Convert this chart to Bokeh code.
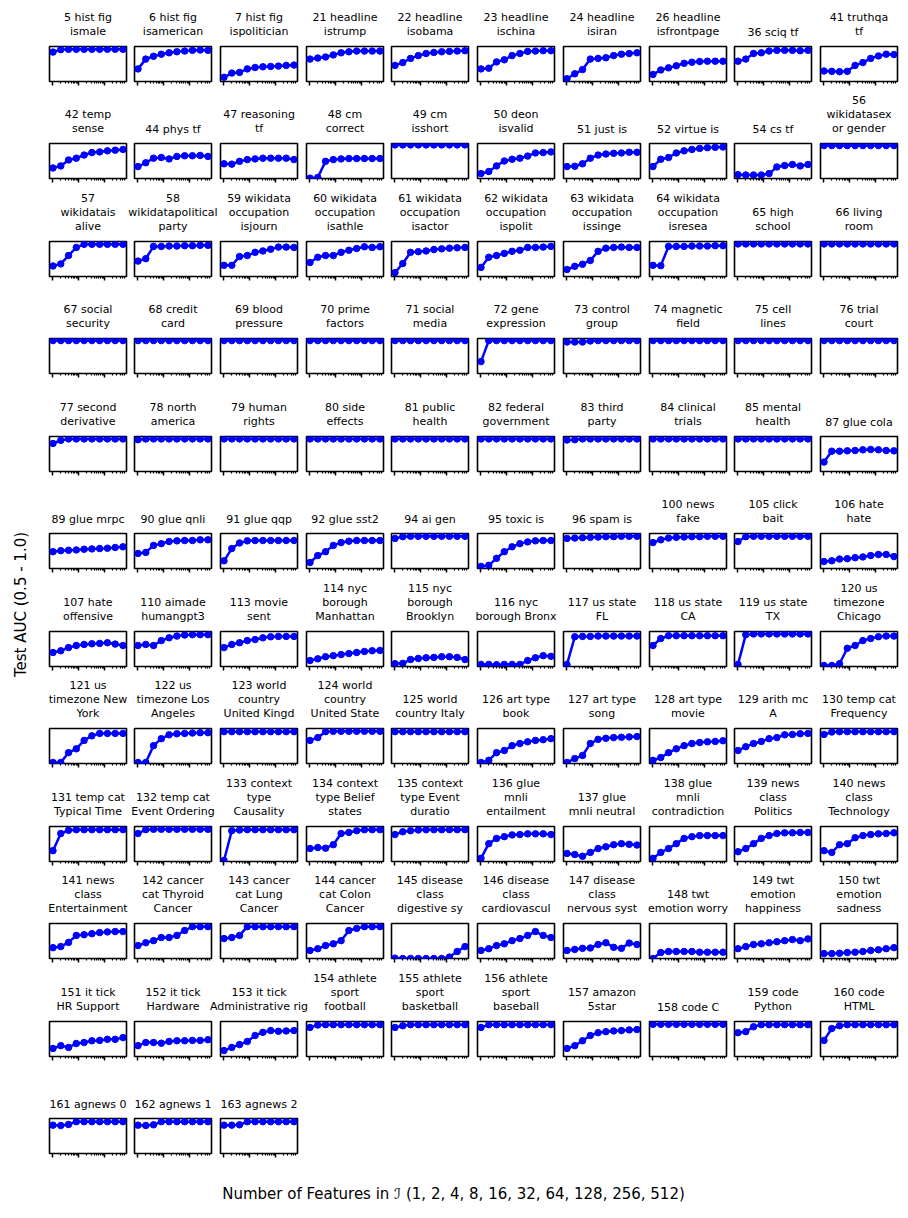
import math
from bokeh.plotting import figure
from bokeh.layouts import row, column
from bokeh.models import Range1d, FixedTicker, Label
from bokeh.embed import file_html
from bokeh.resources import INLINE

# ---------------- data ----------------
n_features = [1, 2, 4, 8, 16, 32, 64, 128, 256, 512]

titles_r01 = ["5 hist fig\nismale", "6 hist fig\nisamerican", "7 hist fig\nispolitician",
              "21 headline\nistrump", "22 headline\nisobama", "23 headline\nischina",
              "24 headline\nisiran", "26 headline\nisfrontpage", "36 sciq tf", "41 truthqa\ntf"]
auc_r01 = [
    [0.92, 0.955, 0.96, 0.96, 0.96, 0.96, 0.96, 0.96, 0.96, 0.96],
    [0.68, 0.82, 0.86, 0.89, 0.91, 0.925, 0.935, 0.945, 0.95, 0.945],
    [0.56, 0.62, 0.63, 0.68, 0.70, 0.71, 0.715, 0.72, 0.73, 0.735],
    [0.82, 0.835, 0.85, 0.88, 0.91, 0.925, 0.935, 0.935, 0.935, 0.935],
    [0.73, 0.77, 0.83, 0.87, 0.90, 0.915, 0.925, 0.93, 0.935, 0.94],
    [0.68, 0.69, 0.78, 0.81, 0.87, 0.90, 0.93, 0.935, 0.94, 0.94],
    [0.54, 0.61, 0.67, 0.82, 0.83, 0.84, 0.87, 0.89, 0.90, 0.91],
    [0.60, 0.665, 0.695, 0.725, 0.76, 0.775, 0.785, 0.79, 0.79, 0.79],
    [0.79, 0.82, 0.90, 0.91, 0.935, 0.945, 0.945, 0.945, 0.94, 0.945],
    [0.65, 0.645, 0.64, 0.645, 0.73, 0.77, 0.83, 0.865, 0.89, 0.885],
]

titles_r02 = ["42 temp\nsense", "44 phys tf", "47 reasoning\ntf", "48 cm\ncorrect", "49 cm\nisshort",
              "50 deon\nisvalid", "51 just is", "52 virtue is", "54 cs tf", "56\nwikidatasex\nor gender"]
auc_r02 = [
    [0.65, 0.68, 0.765, 0.79, 0.835, 0.87, 0.88, 0.895, 0.905, 0.915],
    [0.67, 0.725, 0.79, 0.80, 0.78, 0.815, 0.825, 0.825, 0.83, 0.815],
    [0.71, 0.705, 0.745, 0.77, 0.78, 0.79, 0.79, 0.79, 0.79, 0.77],
    [0.505, 0.515, 0.745, 0.77, 0.78, 0.785, 0.785, 0.785, 0.785, 0.785],
    [0.98, 0.98, 0.98, 0.98, 0.98, 0.98, 0.98, 0.98, 0.98, 0.98],
    [0.57, 0.60, 0.68, 0.75, 0.775, 0.79, 0.82, 0.865, 0.87, 0.88],
    [0.67, 0.675, 0.71, 0.79, 0.835, 0.85, 0.86, 0.865, 0.875, 0.875],
    [0.67, 0.775, 0.80, 0.865, 0.895, 0.915, 0.93, 0.94, 0.945, 0.95],
    [0.555, 0.55, 0.55, 0.55, 0.57, 0.665, 0.685, 0.70, 0.68, 0.70],
    [0.97, 0.97, 0.97, 0.97, 0.97, 0.97, 0.97, 0.97, 0.97, 0.97],
]

titles_r03 = ["57\nwikidatais\nalive", "58\nwikidatapolitical\nparty", "59 wikidata\noccupation\nisjourn",
              "60 wikidata\noccupation\nisathle", "61 wikidata\noccupation\nisactor",
              "62 wikidata\noccupation\nispolit", "63 wikidata\noccupation\nissinge",
              "64 wikidata\noccupation\nisresea", "65 high\nschool", "66 living\nroom"]
auc_r03 = [
    [0.65, 0.68, 0.80, 0.915, 0.96, 0.96, 0.96, 0.96, 0.96, 0.96],
    [0.72, 0.755, 0.93, 0.93, 0.935, 0.935, 0.94, 0.94, 0.945, 0.945],
    [0.66, 0.66, 0.785, 0.80, 0.845, 0.865, 0.89, 0.92, 0.92, 0.915],
    [0.70, 0.775, 0.80, 0.80, 0.845, 0.875, 0.90, 0.925, 0.915, 0.925],
    [0.555, 0.685, 0.845, 0.855, 0.865, 0.885, 0.895, 0.905, 0.91, 0.915],
    [0.63, 0.775, 0.80, 0.83, 0.86, 0.875, 0.915, 0.915, 0.92, 0.93],
    [0.60, 0.645, 0.675, 0.73, 0.86, 0.905, 0.915, 0.92, 0.915, 0.915],
    [0.66, 0.655, 0.93, 0.93, 0.93, 0.935, 0.935, 0.935, 0.94, 0.94],
    [0.965, 0.965, 0.965, 0.965, 0.965, 0.965, 0.965, 0.965, 0.965, 0.965],
    [0.965, 0.965, 0.965, 0.965, 0.965, 0.965, 0.965, 0.965, 0.965, 0.965],
]

titles_r04 = ["67 social\nsecurity", "68 credit\ncard", "69 blood\npressure", "70 prime\nfactors",
              "71 social\nmedia", "72 gene\nexpression", "73 control\ngroup", "74 magnetic\nfield",
              "75 cell\nlines", "76 trial\ncourt"]
auc_r04 = [
    [0.97, 0.97, 0.97, 0.97, 0.97, 0.97, 0.97, 0.97, 0.97, 0.97],
    [0.97, 0.97, 0.97, 0.97, 0.97, 0.97, 0.97, 0.97, 0.97, 0.97],
    [0.97, 0.97, 0.97, 0.97, 0.97, 0.97, 0.97, 0.97, 0.97, 0.97],
    [0.97, 0.97, 0.97, 0.97, 0.97, 0.97, 0.97, 0.97, 0.97, 0.97],
    [0.97, 0.97, 0.97, 0.97, 0.97, 0.97, 0.97, 0.97, 0.97, 0.97],
    [0.67, 0.97, 0.97, 0.97, 0.97, 0.97, 0.97, 0.97, 0.97, 0.97],
    [0.95, 0.95, 0.95, 0.965, 0.97, 0.97, 0.97, 0.97, 0.97, 0.97],
    [0.97, 0.97, 0.97, 0.97, 0.97, 0.97, 0.97, 0.97, 0.97, 0.97],
    [0.97, 0.97, 0.97, 0.97, 0.97, 0.97, 0.97, 0.97, 0.97, 0.97],
    [0.97, 0.97, 0.97, 0.97, 0.97, 0.97, 0.97, 0.97, 0.97, 0.97],
]

titles_r05 = ["77 second\nderivative", "78 north\namerica", "79 human\nrights", "80 side\neffects",
              "81 public\nhealth", "82 federal\ngovernment", "83 third\nparty", "84 clinical\ntrials",
              "85 mental\nhealth", "87 glue cola"]
auc_r05 = [
    [0.90, 0.945, 0.965, 0.965, 0.965, 0.965, 0.965, 0.965, 0.965, 0.965],
    [0.955, 0.965, 0.965, 0.965, 0.965, 0.965, 0.965, 0.965, 0.965, 0.965],
    [0.965, 0.965, 0.965, 0.965, 0.965, 0.965, 0.965, 0.965, 0.965, 0.965],
    [0.965, 0.965, 0.965, 0.965, 0.965, 0.965, 0.965, 0.965, 0.965, 0.965],
    [0.965, 0.965, 0.965, 0.965, 0.965, 0.965, 0.965, 0.965, 0.965, 0.965],
    [0.965, 0.965, 0.965, 0.965, 0.965, 0.965, 0.965, 0.965, 0.965, 0.965],
    [0.95, 0.955, 0.965, 0.965, 0.965, 0.965, 0.965, 0.965, 0.965, 0.965],
    [0.965, 0.965, 0.965, 0.965, 0.965, 0.965, 0.965, 0.965, 0.965, 0.965],
    [0.965, 0.965, 0.965, 0.965, 0.965, 0.965, 0.965, 0.965, 0.965, 0.965],
    [0.635, 0.79, 0.79, 0.795, 0.80, 0.81, 0.815, 0.81, 0.80, 0.795],
]

titles_r06 = ["89 glue mrpc", "90 glue qnli", "91 glue qqp", "92 glue sst2", "94 ai gen",
              "95 toxic is", "96 spam is", "100 news\nfake", "105 click\nbait", "106 hate\nhate"]
auc_r06 = [
    [0.74, 0.755, 0.76, 0.765, 0.775, 0.78, 0.785, 0.79, 0.80, 0.81],
    [0.715, 0.73, 0.83, 0.855, 0.885, 0.895, 0.90, 0.90, 0.91, 0.91],
    [0.61, 0.785, 0.865, 0.895, 0.90, 0.90, 0.90, 0.90, 0.90, 0.90],
    [0.585, 0.685, 0.74, 0.83, 0.87, 0.89, 0.90, 0.90, 0.90, 0.90],
    [0.93, 0.955, 0.96, 0.96, 0.96, 0.96, 0.96, 0.96, 0.96, 0.96],
    [0.53, 0.545, 0.645, 0.74, 0.81, 0.855, 0.88, 0.895, 0.90, 0.90],
    [0.93, 0.935, 0.94, 0.945, 0.95, 0.955, 0.955, 0.96, 0.96, 0.96],
    [0.87, 0.91, 0.935, 0.945, 0.95, 0.955, 0.955, 0.96, 0.96, 0.96],
    [0.885, 0.955, 0.96, 0.96, 0.96, 0.96, 0.96, 0.96, 0.96, 0.96],
    [0.60, 0.61, 0.635, 0.64, 0.655, 0.665, 0.685, 0.70, 0.70, 0.67],
]

titles_r07 = ["107 hate\noffensive", "110 aimade\nhumangpt3", "113 movie\nsent", "114 nyc\nborough\nManhattan",
              "115 nyc\nborough\nBrooklyn", "116 nyc\nborough Bronx", "117 us state\nFL", "118 us state\nCA",
              "119 us state\nTX", "120 us\ntimezone\nChicago"]
auc_r07 = [
    [0.70, 0.725, 0.77, 0.80, 0.815, 0.825, 0.83, 0.84, 0.82, 0.80],
    [0.80, 0.815, 0.80, 0.87, 0.91, 0.935, 0.95, 0.955, 0.955, 0.955],
    [0.77, 0.815, 0.84, 0.87, 0.885, 0.91, 0.925, 0.93, 0.93, 0.93],
    [0.585, 0.61, 0.64, 0.655, 0.67, 0.685, 0.70, 0.715, 0.725, 0.73],
    [0.54, 0.545, 0.60, 0.615, 0.625, 0.63, 0.64, 0.64, 0.63, 0.60],
    [0.53, 0.53, 0.525, 0.53, 0.53, 0.53, 0.585, 0.625, 0.655, 0.645],
    [0.53, 0.925, 0.93, 0.93, 0.935, 0.935, 0.935, 0.935, 0.935, 0.935],
    [0.80, 0.90, 0.94, 0.94, 0.94, 0.94, 0.94, 0.94, 0.94, 0.94],
    [0.53, 0.955, 0.965, 0.965, 0.965, 0.965, 0.965, 0.965, 0.965, 0.965],
    [0.515, 0.515, 0.54, 0.76, 0.80, 0.87, 0.90, 0.925, 0.935, 0.935],
]

titles_r08 = ["121 us\ntimezone New\nYork", "122 us\ntimezone Los\nAngeles", "123 world\ncountry\nUnited Kingd",
              "124 world\ncountry\nUnited State", "125 world\ncountry Italy", "126 art type\nbook",
              "127 art type\nsong", "128 art type\nmovie", "129 arith mc\nA", "130 temp cat\nFrequency"]
auc_r08 = [
    [0.515, 0.515, 0.655, 0.71, 0.83, 0.895, 0.93, 0.93, 0.93, 0.93],
    [0.515, 0.515, 0.755, 0.855, 0.91, 0.925, 0.93, 0.935, 0.94, 0.94],
    [0.955, 0.955, 0.955, 0.955, 0.955, 0.955, 0.955, 0.955, 0.955, 0.955],
    [0.83, 0.87, 0.955, 0.96, 0.96, 0.96, 0.96, 0.96, 0.96, 0.96],
    [0.955, 0.955, 0.955, 0.955, 0.955, 0.955, 0.955, 0.955, 0.955, 0.955],
    [0.515, 0.545, 0.655, 0.685, 0.755, 0.785, 0.81, 0.83, 0.84, 0.855],
    [0.515, 0.57, 0.615, 0.785, 0.845, 0.86, 0.87, 0.875, 0.88, 0.885],
    [0.545, 0.585, 0.655, 0.71, 0.755, 0.785, 0.80, 0.81, 0.815, 0.825],
    [0.685, 0.74, 0.785, 0.815, 0.855, 0.87, 0.91, 0.915, 0.925, 0.93],
    [0.915, 0.95, 0.955, 0.955, 0.955, 0.955, 0.955, 0.955, 0.955, 0.955],
]

titles_r09 = ["131 temp cat\nTypical Time", "132 temp cat\nEvent Ordering", "133 context\ntype\nCausality",
              "134 context\ntype Belief\nstates", "135 context\ntype Event\nduratio", "136 glue\nmnli\nentailment",
              "137 glue\nmnli neutral", "138 glue\nmnli\ncontradiction", "139 news\nclass\nPolitics",
              "140 news\nclass\nTechnology"]
auc_r09 = [
    [0.655, 0.90, 0.945, 0.955, 0.955, 0.955, 0.955, 0.955, 0.955, 0.955],
    [0.90, 0.955, 0.96, 0.96, 0.96, 0.96, 0.96, 0.96, 0.96, 0.96],
    [0.515, 0.94, 0.95, 0.955, 0.955, 0.955, 0.955, 0.955, 0.955, 0.955],
    [0.685, 0.70, 0.69, 0.74, 0.90, 0.915, 0.94, 0.955, 0.955, 0.955],
    [0.885, 0.925, 0.94, 0.95, 0.955, 0.955, 0.955, 0.955, 0.955, 0.955],
    [0.545, 0.755, 0.83, 0.855, 0.88, 0.885, 0.895, 0.895, 0.895, 0.885],
    [0.615, 0.60, 0.575, 0.63, 0.685, 0.71, 0.74, 0.755, 0.745, 0.735],
    [0.545, 0.63, 0.685, 0.755, 0.83, 0.855, 0.87, 0.87, 0.87, 0.87],
    [0.64, 0.685, 0.755, 0.83, 0.87, 0.90, 0.91, 0.91, 0.915, 0.915],
    [0.655, 0.63, 0.74, 0.755, 0.84, 0.87, 0.885, 0.895, 0.90, 0.91],
]

titles_r10 = ["141 news\nclass\nEntertainment", "142 cancer\ncat Thyroid\nCancer", "143 cancer\ncat Lung\nCancer",
              "144 cancer\ncat Colon\nCancer", "145 disease\nclass\ndigestive sy", "146 disease\nclass\ncardiovascul",
              "147 disease\nclass\nnervous syst", "148 twt\nemotion worry", "149 twt\nemotion\nhappiness",
              "150 twt\nemotion\nsadness"]
auc_r10 = [
    [0.655, 0.67, 0.73, 0.83, 0.84, 0.855, 0.87, 0.88, 0.885, 0.885],
    [0.685, 0.725, 0.755, 0.80, 0.80, 0.83, 0.90, 0.955, 0.955, 0.955],
    [0.785, 0.80, 0.83, 0.955, 0.955, 0.955, 0.955, 0.955, 0.955, 0.955],
    [0.615, 0.64, 0.685, 0.71, 0.755, 0.90, 0.93, 0.955, 0.955, 0.955],
    [0.505, 0.50, 0.50, 0.50, 0.50, 0.50, 0.50, 0.52, 0.60, 0.67],
    [0.615, 0.64, 0.685, 0.71, 0.755, 0.785, 0.83, 0.885, 0.83, 0.80],
    [0.615, 0.63, 0.645, 0.65, 0.70, 0.725, 0.66, 0.645, 0.72, 0.70],
    [0.50, 0.585, 0.60, 0.60, 0.60, 0.60, 0.59, 0.59, 0.59, 0.59],
    [0.64, 0.67, 0.70, 0.71, 0.725, 0.74, 0.755, 0.77, 0.755, 0.78],
    [0.57, 0.57, 0.575, 0.585, 0.59, 0.60, 0.615, 0.625, 0.64, 0.655],
]

titles_r11 = ["151 it tick\nHR Support", "152 it tick\nHardware", "153 it tick\nAdministrative rig",
              "154 athlete\nsport\nfootball", "155 athlete\nsport\nbasketball", "156 athlete\nsport\nbaseball",
              "157 amazon\n5star", "158 code C", "159 code\nPython", "160 code\nHTML"]
auc_r11 = [
    [0.615, 0.655, 0.63, 0.685, 0.70, 0.725, 0.73, 0.745, 0.745, 0.77],
    [0.655, 0.70, 0.70, 0.69, 0.715, 0.725, 0.725, 0.73, 0.73, 0.74],
    [0.585, 0.63, 0.67, 0.715, 0.80, 0.845, 0.87, 0.86, 0.865, 0.87],
    [0.915, 0.95, 0.955, 0.955, 0.955, 0.955, 0.955, 0.955, 0.955, 0.955],
    [0.915, 0.94, 0.955, 0.955, 0.955, 0.955, 0.955, 0.955, 0.955, 0.955],
    [0.915, 0.955, 0.955, 0.955, 0.955, 0.955, 0.955, 0.955, 0.955, 0.955],
    [0.615, 0.655, 0.725, 0.80, 0.84, 0.855, 0.865, 0.87, 0.88, 0.885],
    [0.96, 0.96, 0.96, 0.96, 0.96, 0.96, 0.96, 0.96, 0.96, 0.96],
    [0.84, 0.855, 0.925, 0.955, 0.955, 0.955, 0.955, 0.955, 0.955, 0.955],
    [0.73, 0.90, 0.94, 0.955, 0.955, 0.955, 0.955, 0.955, 0.955, 0.955],
]

titles_r12 = ["161 agnews 0", "162 agnews 1", "163 agnews 2"]
auc_r12 = [
    [0.905, 0.90, 0.915, 0.955, 0.955, 0.955, 0.955, 0.955, 0.955, 0.955],
    [0.905, 0.90, 0.91, 0.955, 0.955, 0.955, 0.955, 0.955, 0.955, 0.955],
    [0.905, 0.905, 0.91, 0.955, 0.955, 0.955, 0.955, 0.955, 0.955, 0.955],
]

y_label = "Test AUC (0.5 - 1.0)"
x_label = "Number of Features in \u2110 (1, 2, 4, 8, 16, 32, 64, 128, 256, 512)"

rows_titles = [titles_r01, titles_r02, titles_r03, titles_r04, titles_r05, titles_r06,
               titles_r07, titles_r08, titles_r09, titles_r10, titles_r11, titles_r12]
rows_auc = [auc_r01, auc_r02, auc_r03, auc_r04, auc_r05, auc_r06,
            auc_r07, auc_r08, auc_r09, auc_r10, auc_r11, auc_r12]

# ---------------- layout geometry (page pixels) ----------------
FONT = "DejaVu Sans"
FW, FH = 77, 35
frame_left = [49, 134, 220, 306, 391, 477, 563, 649, 734, 820]
frame_top = [46, 143, 241, 338, 436, 533, 631, 728, 826, 923, 1021, 1118]
PAGE_R = 900
YLAB_W = 38
PT, PB = 2, 8          # panel border above / below frame
RIGHT = 4
TITLE_GAP = 8          # title text bottom above frame top
X_LO, X_HI = 10 ** -0.135, 10 ** 2.845
minor = [m * 10 ** e for e in range(3) for m in range(2, 10) if m * 10 ** e < X_HI]

col_L, col_R = [], []
prev = YLAB_W
for j, l in enumerate(frame_left):
    col_L.append(l - prev)
    r = RIGHT if j < len(frame_left) - 1 else PAGE_R - (l + FW)
    col_R.append(r)
    prev = l + FW + r
grid_w = PAGE_R - YLAB_W


def hide_grid(p):
    for g in p.grid:
        g.visible = False


def make_panel(values, L, R):
    p = figure(width=L + FW + R, height=PT + FH + PB, x_axis_type="log",
               x_range=Range1d(X_LO, X_HI), y_range=Range1d(0.5, 1.0),
               y_axis_location=None, toolbar_location=None, output_backend="svg",
               min_border_left=L, min_border_right=R, min_border_top=PT, min_border_bottom=PB)
    p.outline_line_color = "black"
    p.outline_line_width = 1.6
    p.outline_line_alpha = 1.0
    p.background_fill_color = "white"
    p.border_fill_color = "white"
    hide_grid(p)
    ax = p.xaxis[0]
    ax.ticker = FixedTicker(ticks=[1, 10, 100], minor_ticks=minor)
    ax.major_label_overrides = {1: "", 10: "", 100: ""}
    ax.major_label_text_font_size = "1px"
    ax.major_label_standoff = 0
    ax.axis_line_color = None
    ax.major_tick_in = 0
    ax.major_tick_out = 4
    ax.minor_tick_in = 0
    ax.minor_tick_out = 2
    ax.major_tick_line_color = "black"
    ax.major_tick_line_width = 1.5
    ax.minor_tick_line_color = "black"
    ax.minor_tick_line_width = 1.2
    p.line(n_features, values, line_color="#0000ff", line_width=2.5)
    p.scatter(n_features, values, size=6.5, fill_color="#0000ff", line_color="#0000ff")
    return p


def blank(width, height, x0, x1, y0, y1):
    p = figure(width=width, height=height, x_range=Range1d(x0, x1), y_range=Range1d(y0, y1),
               x_axis_location=None, y_axis_location=None, toolbar_location=None,
               output_backend="svg", min_border=0, outline_line_color=None)
    p.border_fill_color = "white"
    hide_grid(p)
    return p


blocks = []
prev_end = 0
for k, (tl, vals) in enumerate(zip(rows_titles, rows_auc)):
    strip_h = frame_top[k] - PT - prev_end
    strip = blank(grid_w, strip_h, YLAB_W, PAGE_R, 0, strip_h)
    for j, t in enumerate(tl):
        strip.add_layout(Label(x=frame_left[j] + FW / 2, y=TITLE_GAP - PT, text=t,
                               text_align="center", text_baseline="bottom",
                               text_font=FONT, text_font_size="11px", text_color="black",
                               text_line_height=1.09))
    panels = [make_panel(v, col_L[j], col_R[j]) for j, v in enumerate(vals)]
    blocks.append(strip)
    blocks.append(row(*panels, spacing=0))
    prev_end = frame_top[k] + FH + PB

grid_h = prev_end

# x label strip
XL_H = 45
xl = blank(grid_w, XL_H, YLAB_W, PAGE_R, 0, XL_H)
xl.add_layout(Label(x=453, y=XL_H - (1193 - grid_h), text=x_label,
                    text_align="center", text_baseline="middle", text_font=FONT,
                    text_font_size="15px", text_color="black"))
blocks.append(xl)

# y label strip
yl = blank(YLAB_W, grid_h, 0, YLAB_W, 0, grid_h)
yl.add_layout(Label(x=20, y=grid_h - 604, text=y_label, angle=math.pi / 2,
                    text_align="center", text_baseline="middle", text_font=FONT,
                    text_font_size="15px", text_color="black"))

layout = row(yl, column(*blocks, spacing=0), spacing=0)

open("out.html", "w").write(file_html(layout, INLINE, title="AUC vs number of features"))
